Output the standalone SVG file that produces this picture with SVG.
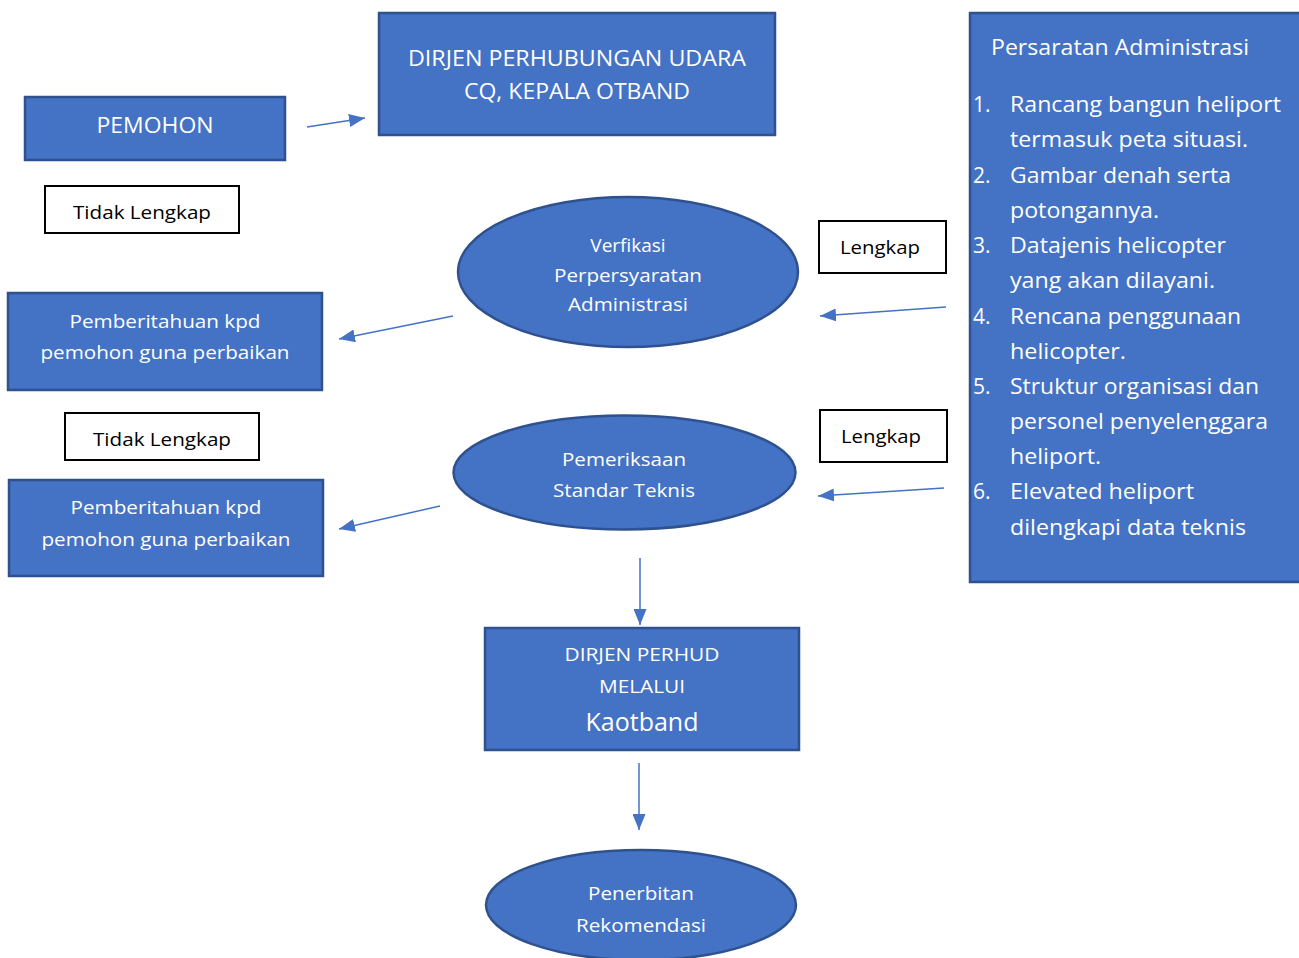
<svg xmlns="http://www.w3.org/2000/svg" width="1299" height="958" viewBox="0 0 1299 958">
<defs>
<style>
.b{fill:#4472C4;stroke:#2F528F;stroke-width:2.5}
.w{fill:#fff;stroke:#000;stroke-width:2}
.t{font-family:"Open Sans","Noto Sans",sans-serif;fill:#fff;font-size:19px;text-anchor:middle}
.k{font-family:"Open Sans","Noto Sans",sans-serif;fill:#000;font-size:19px;text-anchor:middle}
.l{font-family:"Open Sans","Noto Sans",sans-serif;fill:#fff;font-size:21px}
.c{stroke:#4472C4;stroke-width:1.5;fill:none;marker-end:url(#ah)}
</style>
<marker id="ah" viewBox="0 0 16 13" refX="16" refY="6.5" markerWidth="16" markerHeight="13" markerUnits="userSpaceOnUse" orient="auto">
<path d="M0,0 L16,6.5 L0,13 z" fill="#4472C4"/>
</marker>
</defs>
<rect width="1299" height="958" fill="#fff"/>
<g id="pemohon"><rect class="b" x="25" y="97" width="260" height="63"/><text class="t" x="155" y="133" style="font-size:21px" textLength="117" lengthAdjust="spacingAndGlyphs">PEMOHON</text></g>
<g id="dirjen"><rect class="b" x="379" y="13" width="396" height="122"/><text class="t" x="577" y="66" style="font-size:21px" textLength="338" lengthAdjust="spacingAndGlyphs">DIRJEN PERHUBUNGAN UDARA</text><text class="t" x="577" y="99" style="font-size:21px" textLength="226" lengthAdjust="spacingAndGlyphs">CQ, KEPALA OTBAND</text></g>
<g id="tidak1"><rect class="w" x="45" y="186" width="194" height="47"/><text class="k" x="142" y="219" textLength="138" lengthAdjust="spacingAndGlyphs">Tidak Lengkap</text></g>
<g id="verifikasi"><ellipse class="b" cx="628" cy="272" rx="170" ry="75"/><text class="t" x="628" y="252">Verfikasi</text><text class="t" x="628" y="282" textLength="148" lengthAdjust="spacingAndGlyphs">Perpersyaratan</text><text class="t" x="628" y="311" textLength="120" lengthAdjust="spacingAndGlyphs">Administrasi</text></g>
<g id="lengkap1"><rect class="w" x="819" y="221" width="127" height="52"/><text class="k" x="880" y="254" textLength="80" lengthAdjust="spacingAndGlyphs">Lengkap</text></g>
<g id="persyaratan"><rect class="b" x="970" y="13" width="335" height="569"/>
<text class="l" x="991" y="55" textLength="258" lengthAdjust="spacingAndGlyphs">Persaratan Administrasi</text>
<text class="l" x="973" y="112">1.</text><text class="l" x="1010" y="112" textLength="271" lengthAdjust="spacingAndGlyphs">Rancang bangun heliport</text>
<text class="l" x="1010" y="147" textLength="238" lengthAdjust="spacingAndGlyphs">termasuk peta situasi.</text>
<text class="l" x="973" y="183">2.</text><text class="l" x="1010" y="183" textLength="221" lengthAdjust="spacingAndGlyphs">Gambar denah serta</text>
<text class="l" x="1010" y="218" textLength="149" lengthAdjust="spacingAndGlyphs">potongannya.</text>
<text class="l" x="973" y="253">3.</text><text class="l" x="1010" y="253" textLength="216" lengthAdjust="spacingAndGlyphs">Datajenis helicopter</text>
<text class="l" x="1010" y="288" textLength="205" lengthAdjust="spacingAndGlyphs">yang akan dilayani.</text>
<text class="l" x="973" y="324">4.</text><text class="l" x="1010" y="324" textLength="231" lengthAdjust="spacingAndGlyphs">Rencana penggunaan</text>
<text class="l" x="1010" y="359" textLength="116" lengthAdjust="spacingAndGlyphs">helicopter.</text>
<text class="l" x="973" y="394">5.</text><text class="l" x="1010" y="394" textLength="249" lengthAdjust="spacingAndGlyphs">Struktur organisasi dan</text>
<text class="l" x="1010" y="429" textLength="258" lengthAdjust="spacingAndGlyphs">personel penyelenggara</text>
<text class="l" x="1010" y="464" textLength="91" lengthAdjust="spacingAndGlyphs">heliport.</text>
<text class="l" x="973" y="499">6.</text><text class="l" x="1010" y="499" textLength="184" lengthAdjust="spacingAndGlyphs">Elevated heliport</text>
<text class="l" x="1010" y="535" textLength="236" lengthAdjust="spacingAndGlyphs">dilengkapi data teknis</text>
</g>
<g id="pemberitahuan1"><rect class="b" x="8" y="293" width="314" height="97"/><text class="t" x="165" y="328" textLength="191" lengthAdjust="spacingAndGlyphs">Pemberitahuan kpd</text><text class="t" x="165" y="359" textLength="249" lengthAdjust="spacingAndGlyphs">pemohon guna perbaikan</text></g>
<g id="tidak2"><rect class="w" x="65" y="413" width="194" height="47"/><text class="k" x="162" y="446" textLength="138" lengthAdjust="spacingAndGlyphs">Tidak Lengkap</text></g>
<g id="pemeriksaan"><ellipse class="b" cx="624.5" cy="472.5" rx="171" ry="57"/><text class="t" x="624" y="466" textLength="124" lengthAdjust="spacingAndGlyphs">Pemeriksaan</text><text class="t" x="624" y="497" textLength="142" lengthAdjust="spacingAndGlyphs">Standar Teknis</text></g>
<g id="lengkap2"><rect class="w" x="820" y="410" width="127" height="52"/><text class="k" x="881" y="443" textLength="80" lengthAdjust="spacingAndGlyphs">Lengkap</text></g>
<g id="pemberitahuan2"><rect class="b" x="9" y="480" width="314" height="96"/><text class="t" x="166" y="514" textLength="191" lengthAdjust="spacingAndGlyphs">Pemberitahuan kpd</text><text class="t" x="166" y="546" textLength="249" lengthAdjust="spacingAndGlyphs">pemohon guna perbaikan</text></g>
<g id="dirjenperhud"><rect class="b" x="485" y="628" width="314" height="122"/><text class="t" x="642" y="661" textLength="155" lengthAdjust="spacingAndGlyphs">DIRJEN PERHUD</text><text class="t" x="642" y="693" textLength="86" lengthAdjust="spacingAndGlyphs">MELALUI</text><text class="t" x="642" y="731" style="font-size:25px" textLength="113" lengthAdjust="spacingAndGlyphs">Kaotband</text></g>
<g id="penerbitan"><ellipse class="b" cx="641" cy="905" rx="155" ry="55"/><text class="t" x="641" y="900" textLength="106" lengthAdjust="spacingAndGlyphs">Penerbitan</text><text class="t" x="641" y="932" textLength="130" lengthAdjust="spacingAndGlyphs">Rekomendasi</text></g>
<g id="connectors">
<line class="c" x1="307" y1="127" x2="365" y2="118"/>
<line class="c" x1="946" y1="307" x2="820" y2="316"/>
<line class="c" x1="453" y1="316" x2="339" y2="339"/>
<line class="c" x1="944" y1="488" x2="818" y2="496"/>
<line class="c" x1="440" y1="506" x2="339" y2="529"/>
<line class="c" x1="640" y1="558" x2="640" y2="625"/>
<line class="c" x1="639" y1="763" x2="639" y2="830"/>
</g>
</svg>
